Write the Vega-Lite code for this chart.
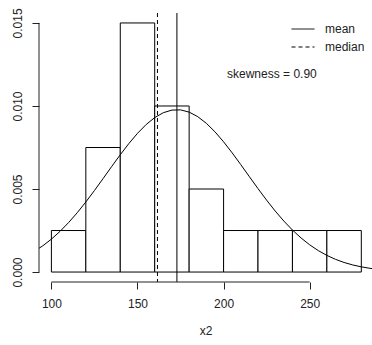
{
  "$schema": "https://vega.github.io/schema/vega-lite/v6.json",
  "width": 333,
  "height": 269,
  "autosize": {"type": "none"},
  "padding": {"left": 39, "top": 13, "right": 0, "bottom": 63},
  "config": {
    "view": {"stroke": null},
    "font": "Liberation Sans",
    "axis": {"grid": false, "domain": false, "tickColor": "#222", "tickSize": 7, "labelColor": "#222", "labelFontSize": 12, "titleFontSize": 12, "titleFontWeight": "normal", "titleColor": "#222", "labelFlush": false}
  },
  "datasets": {
    "bins": [
      {"bin_start": 100, "bin_end": 120, "density": 0.0025},
      {"bin_start": 120, "bin_end": 140, "density": 0.0075},
      {"bin_start": 140, "bin_end": 160, "density": 0.015},
      {"bin_start": 160, "bin_end": 180, "density": 0.010},
      {"bin_start": 180, "bin_end": 200, "density": 0.005},
      {"bin_start": 200, "bin_end": 220, "density": 0.0025},
      {"bin_start": 220, "bin_end": 240, "density": 0.0025},
      {"bin_start": 240, "bin_end": 260, "density": 0.0025},
      {"bin_start": 260, "bin_end": 280, "density": 0.0025}
    ],
    "curve": [
      {"x": 90, "density": 0.001241}, {"x": 95, "density": 0.001580}, {"x": 100, "density": 0.001981},
      {"x": 105, "density": 0.002448}, {"x": 110, "density": 0.002979}, {"x": 115, "density": 0.003572},
      {"x": 120, "density": 0.004219}, {"x": 125, "density": 0.004909}, {"x": 130, "density": 0.005626},
      {"x": 135, "density": 0.006352}, {"x": 140, "density": 0.007064}, {"x": 145, "density": 0.007739},
      {"x": 150, "density": 0.008353}, {"x": 155, "density": 0.008881}, {"x": 160, "density": 0.009301},
      {"x": 165, "density": 0.009596}, {"x": 170, "density": 0.009753}, {"x": 175, "density": 0.009765},
      {"x": 180, "density": 0.009631}, {"x": 185, "density": 0.009357}, {"x": 190, "density": 0.008956},
      {"x": 195, "density": 0.008444}, {"x": 200, "density": 0.007842}, {"x": 205, "density": 0.007175},
      {"x": 210, "density": 0.006467}, {"x": 215, "density": 0.005742}, {"x": 220, "density": 0.005022},
      {"x": 225, "density": 0.004327}, {"x": 230, "density": 0.003672}, {"x": 235, "density": 0.003070},
      {"x": 240, "density": 0.002529}, {"x": 245, "density": 0.002052}, {"x": 250, "density": 0.001640},
      {"x": 255, "density": 0.001291}, {"x": 260, "density": 0.001002}, {"x": 265, "density": 0.000765},
      {"x": 270, "density": 0.000576}, {"x": 275, "density": 0.000427}, {"x": 280, "density": 0.000312},
      {"x": 285, "density": 0.000224}, {"x": 290, "density": 0.000159}
    ],
    "stats": [
      {"stat": "mean", "value": 172.9},
      {"stat": "median", "value": 161.6}
    ]
  },
  "layer": [
    {
      "data": {"name": "bins"},
      "mark": {"type": "rect", "fill": "white", "stroke": "black", "strokeWidth": 1},
      "encoding": {
        "x": {"field": "bin_start", "type": "quantitative", "scale": {"domain": [92.8, 286.2], "nice": false, "zero": false},
              "axis": {"values": [100, 150, 200, 250], "labelPadding": 9, "title": "x2", "titlePadding": 16}},
        "x2": {"field": "bin_end"},
        "y": {"field": "density", "type": "quantitative", "scale": {"domain": [-0.0006, 0.0156], "nice": false, "zero": false},
              "axis": {"values": [0, 0.005, 0.01, 0.015], "format": ".3f", "labelAngle": 270, "labelPadding": 8, "title": null}},
        "y2": {"datum": 0}
      }
    },
    {
      "data": {"name": "curve"},
      "mark": {"type": "line", "color": "black", "strokeWidth": 1, "clip": true},
      "encoding": {
        "x": {"field": "x", "type": "quantitative"},
        "y": {"field": "density", "type": "quantitative"}
      }
    },
    {
      "data": {"name": "stats"},
      "mark": {"type": "rule", "color": "black", "strokeWidth": 1},
      "encoding": {
        "x": {"field": "value", "type": "quantitative"},
        "strokeDash": {"field": "stat", "type": "nominal",
          "scale": {"domain": ["mean", "median"], "range": [[1, 0], [4, 3]]},
          "legend": {"orient": "none", "legendX": 252, "legendY": 4, "title": null, "symbolType": "stroke", "symbolSize": 529,
                     "symbolStrokeColor": "black", "symbolStrokeWidth": 1, "labelFontSize": 12, "labelColor": "#222", "labelOffset": 10, "padding": 0, "rowPadding": -11}}
      }
    },
    {
      "data": {"values": [{"label": "skewness = 0.90"}]},
      "mark": {"type": "text", "align": "left", "baseline": "middle", "fontSize": 12, "color": "#222"},
      "encoding": {
        "x": {"datum": 202},
        "y": {"datum": 0.0119},
        "text": {"field": "label"}
      }
    },
    {
      "data": {"values": [{"a": 1}]},
      "mark": {"type": "rule", "color": "#222", "strokeWidth": 1},
      "encoding": {
        "x": {"datum": 100},
        "x2": {"datum": 250},
        "y": {"datum": -0.0006}
      }
    },
    {
      "data": {"values": [{"a": 1}]},
      "mark": {"type": "rule", "color": "#222", "strokeWidth": 1},
      "encoding": {
        "x": {"datum": 92.8},
        "y": {"datum": 0},
        "y2": {"datum": 0.015}
      }
    }
  ]
}
